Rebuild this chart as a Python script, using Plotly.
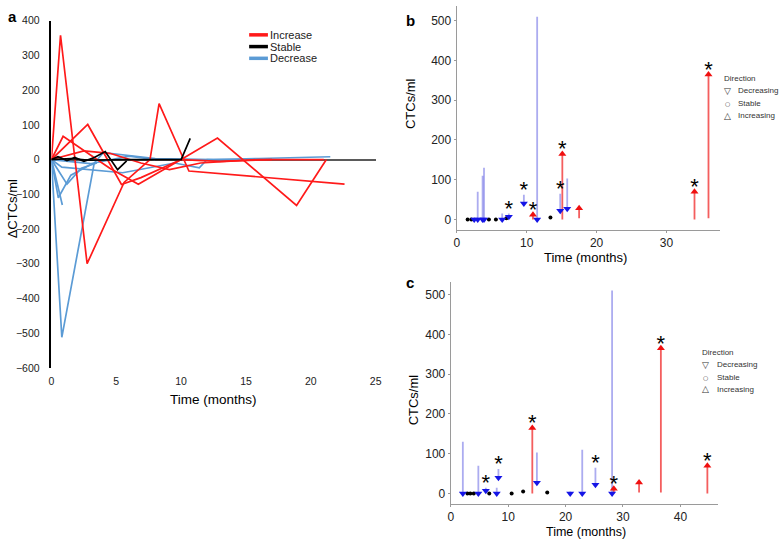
import plotly.graph_objects as go

W, H = 784, 545
FONT = "Liberation Sans, Arial, sans-serif"

# ---------------- panel a: change in CTCs/ml per patient ----------------
increase_t = [
    [0, 0.7, 2.75, 5.6, 7.6, 8.3, 10.6, 22.6],
    [0, 0.9, 4.5, 6.7, 10.0, 12.8, 18.9, 21.2],
    [0, 2.8, 5.4, 6.9, 10.0, 13.0, 17.0],
    [0, 2.5, 4.5, 6.9, 9.1, 11.5, 16.0, 21.0],
]
increase_v = [
    [0, 358, -300, -66, 0, 161, -33, -71],
    [0, 67, -25, -71, 0, 62, -132, 0],
    [0, 101, -72, -52, 0, -5, 0],
    [0, 25, 18, -10, -29, -10, 0, 0],
]
stable_t = [
    [0, 0.5, 1.2, 1.8, 2.5, 3.2, 4.15, 5.1, 5.8],
    [0, 1.5, 3.0, 5.5, 10.0, 10.7],
]
stable_v = [
    [0, 8, -3, 6, -5, 4, 23, -29, -4],
    [0, 3, -2, 0, 0, 61],
]
decrease_t = [
    [0, 0.8, 3.3, 4.0, 8.0, 12.5, 16.0, 21.5],
    [0, 0.53, 1.5, 3.0],
    [0, 0.84],
    [0, 1.2, 2.3, 3.5],
    [0, 0.8, 5.5, 9.5, 11.4, 12.0, 15.0],
    [0, 3.0, 6.0, 8.0],
]
decrease_v = [
    [0, -512, -10, 20, 3, 0, 3, 8],
    [0, -110, -45, -15],
    [0, -131],
    [0, -71, -25, -10],
    [0, -22, -38, -10, -24, 0, 0],
    [0, -12, 10, 0],
]

# ---------------- panel b ----------------
b_dec_t = [2.5, 3.0, 3.7, 3.9, 6.5, 7.45, 9.6, 11.5, 14.8, 15.8]
b_dec_from = [5, 70, 110, 130, 15, 15, 62, 510, 65, 103]
b_dec_to = [0, 0, 0, 0, 0, 7, 40, 0, 22, 27]
b_dec_star = [0, 0, 0, 0, 0, 1, 1, 0, 1, 0]
b_inc_t = [10.9, 15.1, 17.5, 34.0, 36.0]
b_inc_from = [0, 0, 3, 0, 3]
b_inc_to = [12, 165, 28, 70, 365]
b_inc_star = [1, 1, 0, 1, 1]
b_stab_t = [1.56, 2.1, 4.6, 5.6, 7.1, 13.4]
b_stab_v = [0, 0, 0, 0, 3, 5]

# ---------------- panel c ----------------
c_dec_t = [2.1, 4.8, 6.1, 8.0, 8.3, 15.0, 20.8, 22.9, 25.2, 28.1]
c_dec_from = [130, 70, 15, 15, 62, 103, 5, 110, 65, 510]
c_dec_to = [0, 0, 7, 0, 40, 27, 0, 0, 22, 0]
c_dec_star = [0, 0, 1, 0, 1, 0, 0, 0, 1, 0]
c_inc_t = [14.2, 28.4, 32.8, 36.6, 44.7]
c_inc_from = [0, 0, 3, 3, 0]
c_inc_to = [165, 12, 28, 365, 70]
c_inc_star = [1, 1, 0, 1, 1]
c_stab_t = [2.9, 3.4, 4.0, 6.7, 10.6, 12.6, 16.8]
c_stab_v = [0, 0, 0, 0, 0, 5, 3]

RED = "#ff1a1a"
BLUE_A = "#5b9bd5"


def px(x):
    return x / W


def py(y):
    return 1 - y / H


fig = go.Figure()

# panel a lines
for ts, vs, col in ([decrease_t, decrease_v, BLUE_A],
                    [increase_t, increase_v, RED],
                    [stable_t, stable_v, "black"]):
    for t, v in zip(ts, vs):
        fig.add_trace(go.Scatter(x=t, y=v, mode="lines", line=dict(color=col, width=1.7),
                                 showlegend=False, hoverinfo="skip", xaxis="x", yaxis="y"))


def arrows(xa, ya, dec_t, dec_from, dec_to, dec_star, inc_t, inc_from, inc_to, inc_star, st_t, st_v):
    for t, f, to, col in ((dec_t, dec_from, dec_to, "rgba(90,90,225,0.5)"),
                          (inc_t, inc_from, inc_to, "rgba(240,40,40,0.75)")):
        xs, ys = [], []
        for a, b, c in zip(t, f, to):
            xs += [a, a, None]
            ys += [b, c, None]
        fig.add_trace(go.Scatter(x=xs, y=ys, mode="lines", line=dict(color=col, width=1.8),
                                 showlegend=False, hoverinfo="skip", xaxis=xa, yaxis=ya))
    fig.add_trace(go.Scatter(x=st_t, y=st_v, mode="markers",
                             marker=dict(symbol="circle", size=4, color="black"),
                             showlegend=False, xaxis=xa, yaxis=ya))
    fig.add_trace(go.Scatter(x=dec_t, y=dec_to, mode="markers",
                             marker=dict(symbol="triangle-down", size=7, color="#1515e6"),
                             showlegend=False, xaxis=xa, yaxis=ya))
    fig.add_trace(go.Scatter(x=inc_t, y=inc_to, mode="markers",
                             marker=dict(symbol="triangle-up", size=7, color="#f01010"),
                             showlegend=False, xaxis=xa, yaxis=ya))
    sx, sy = [], []
    for t, f, to, s in list(zip(dec_t, dec_from, dec_to, dec_star)) + list(zip(inc_t, inc_from, inc_to, inc_star)):
        if s:
            sx.append(t)
            sy.append(max(f, to) + 8)
    fig.add_trace(go.Scatter(x=sx, y=sy, mode="text", text=["*"] * len(sx),
                             textposition="middle center",
                             textfont=dict(size=22, color="black", family=FONT),
                             showlegend=False, hoverinfo="skip", xaxis=xa, yaxis=ya))


arrows("x2", "y2", b_dec_t, b_dec_from, b_dec_to, b_dec_star,
       b_inc_t, b_inc_from, b_inc_to, b_inc_star, b_stab_t, b_stab_v)
arrows("x3", "y3", c_dec_t, c_dec_from, c_dec_to, c_dec_star,
       c_inc_t, c_inc_from, c_inc_to, c_inc_star, c_stab_t, c_stab_v)

gray = "#9a9a9a"
ax_bc = dict(showgrid=False, zeroline=False, showline=True, linecolor=gray, linewidth=1.2,
             ticks="outside", ticklen=2, tickcolor=gray, tickfont=dict(size=12, color="#222"))

fig.update_layout(
    width=W, height=H,
    margin=dict(l=0, r=0, t=0, b=0),
    paper_bgcolor="white", plot_bgcolor="white",
    font=dict(family=FONT, color="black"),
    showlegend=False,
    xaxis=dict(domain=[px(49), px(377)], range=[0, 25], tickvals=[0, 5, 10, 15, 20, 25],
               showgrid=False, zeroline=False, showline=False, ticks="",
               tickfont=dict(size=10.5, color="#222"), ticklabelstandoff=6, anchor="y"),
    yaxis=dict(domain=[py(370), py(15)], range=[-600, 400], dtick=100,
               showgrid=False, showline=True, linecolor="black", linewidth=1.5,
               zeroline=True, zerolinecolor="#5a5a5a", zerolinewidth=1.6,
               ticks="", tickfont=dict(size=10.5, color="#222"), ticklabelstandoff=8, anchor="x"),
    xaxis2=dict(domain=[px(459), px(725)], range=[0, 37.6], tickvals=[0, 10, 20, 30], anchor="y2", **ax_bc),
    yaxis2=dict(domain=[py(229), py(0)], range=[-26.3, 537], tickvals=[0, 100, 200, 300, 400, 500],
                anchor="x2", **ax_bc),
    xaxis3=dict(domain=[px(453), px(723)], range=[0, 46.5], tickvals=[0, 10, 20, 30, 40], anchor="y3", **ax_bc),
    yaxis3=dict(domain=[py(509), py(282)], range=[-25.6, 532], tickvals=[0, 100, 200, 300, 400, 500],
                anchor="x3", **ax_bc),
)

ann = []


def label(x, y, text, size, angle=0, xanchor="center", bold=False, color="black", family=FONT):
    ann.append(dict(x=px(x), y=py(y), xref="paper", yref="paper", text=f"<b>{text}</b>" if bold else text,
                    showarrow=False, textangle=angle, xanchor=xanchor, yanchor="middle",
                    font=dict(size=size, color=color, family=family)))


# panel letters
label(10, 11, "a", 15, bold=True)
label(412, 15, "b", 15, bold=True)
label(412, 283, "c", 15, bold=True)

# axis titles
label(213, 402, "Time (months)", 13.5)
label(589, 257, "Time (months)", 13)
label(590, 538, "Time (months)", 12.5)
label(10, 207, "ΔCTCs/ml", 13, angle=-90)
label(413, 100, "CTCs/ml", 13, angle=-90)
label(415, 403, "CTCs/ml", 13, angle=-90)

# legend panel a
shapes = []
for y, name, col in ((29.5, "Increase", RED), (41.5, "Stable", "black"), (53.5, "Decrease", BLUE_A)):
    shapes.append(dict(type="line", xref="paper", yref="paper", x0=px(249), x1=px(268), y0=py(y), y1=py(y),
                       line=dict(color=col, width=3.5)))
    label(268, y, name, 11, xanchor="left", color="#222")

# legends panels b and c
for x0, y0 in ((727, 74), (705, 354)):
    label(x0, y0, "Direction", 8, xanchor="left", color="#333")
    for i, (sym, name, sz) in enumerate((("▽", "Decreasing", 9), ("○", "Stable", 6), ("△", "Increasing", 9))):
        yy = y0 + 12.7 * (i + 1)
        label(x0 + 6, yy, sym, sz, color="#333", family="DejaVu Sans")
        label(x0 + 15, yy, name, 8, xanchor="left", color="#333")

fig.update_layout(annotations=ann, shapes=shapes)
fig.write_html("out.html", config={"displayModeBar": False},
               post_script="document.body.style.margin='0';document.body.style.overflow='hidden';")
